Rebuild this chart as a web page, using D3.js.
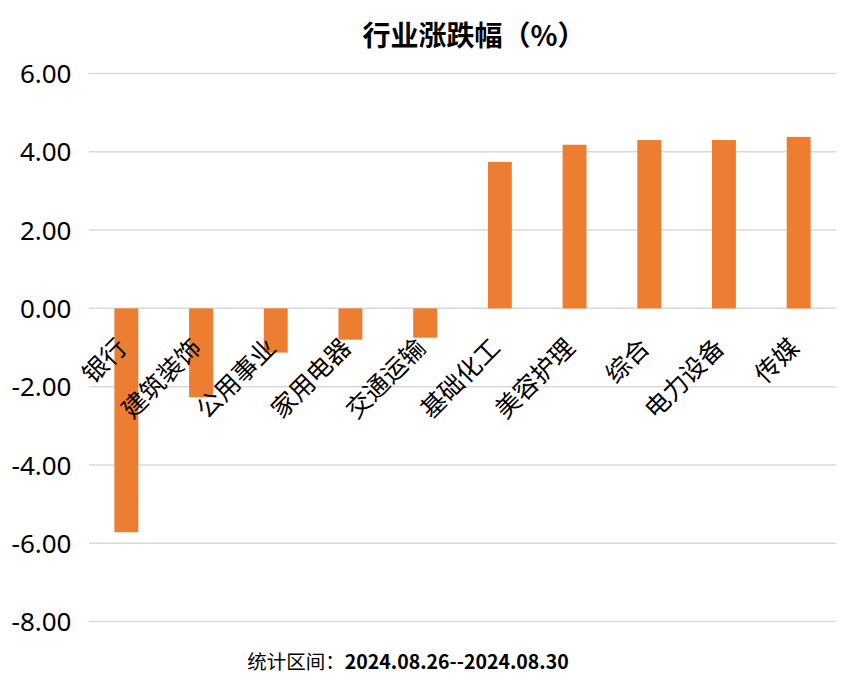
<!DOCTYPE html>
<html><head><meta charset="utf-8">
<script src="https://cdn.jsdelivr.net/npm/d3@7"></script>
<style>body{margin:0;background:#fff}svg{display:block}</style>
</head><body>
<svg id="c" width="855" height="690"></svg>
<script>
const categories = ["银行","建筑装饰","公用事业","家用电器","交通运输","基础化工","美容护理","综合","电力设备","传媒"];
const values = [-5.72,-2.27,-1.13,-0.80,-0.75,3.74,4.18,4.30,4.30,4.38];
const yTicks = [6,4,2,0,-2,-4,-6,-8];
const titleText = "行业涨跌幅（%）";
const footLabel = "统计区间：";
const footDates = "2024.08.26--2024.08.30";

(function () {
const svg = d3.select("#c");
const font = "'Noto Sans CJK SC','Noto Sans',sans-serif";
const mLeft = 89, mRight = 836, mTop = 73.5, mBottom = 621.5;
const x = d3.scaleBand().domain(categories).range([mLeft, mRight]).paddingInner(0.68).paddingOuter(0.34);
const y = d3.scaleLinear().domain([-8, 6]).range([mBottom, mTop]);

svg.append("g").selectAll("line").data(yTicks).join("line")
  .attr("x1", mLeft).attr("x2", mRight)
  .attr("y1", d => y(d)).attr("y2", d => y(d))
  .attr("stroke", "#d9d9d9").attr("stroke-width", 1.5);

const yAxis = d3.axisLeft(y).tickValues(yTicks).tickFormat(d => d.toFixed(2)).tickSize(0).tickPadding(0);
const ya = svg.append("g").attr("transform", "translate(71.5,0)").call(yAxis);
ya.select(".domain").remove();
ya.selectAll("text").attr("font-family", "'Noto Sans',sans-serif").attr("font-size", 26).attr("fill", "#000").attr("dy", "0.35em");

svg.append("g").selectAll("rect").data(values).join("rect")
  .attr("x", (d, i) => x(categories[i]))
  .attr("width", x.bandwidth())
  .attr("y", d => y(Math.max(0, d)))
  .attr("height", d => Math.abs(y(d) - y(0)))
  .attr("fill", "#ed7d31");

svg.append("g").selectAll("text").data(categories).join("text")
  .attr("transform", d => `translate(${x(d) + x.bandwidth() / 2 + 2},${y(0) + 41}) rotate(-45)`)
  .attr("text-anchor", "end")
  .attr("font-family", font).attr("font-size", 25).attr("fill", "#000")
  .text(d => d);

svg.append("text").attr("x", 474).attr("y", 46).attr("text-anchor", "middle")
  .attr("font-family", font).attr("font-size", 28).attr("font-weight", "bold").attr("fill", "#000")
  .text(titleText);

const ft = svg.append("text").attr("x", 408).attr("y", 669).attr("text-anchor", "middle")
  .attr("font-family", font).attr("font-size", 19.5).attr("fill", "#000");
ft.append("tspan").text(footLabel);
ft.append("tspan").attr("font-weight", "bold").text(footDates);
})();
</script>
</body></html>
